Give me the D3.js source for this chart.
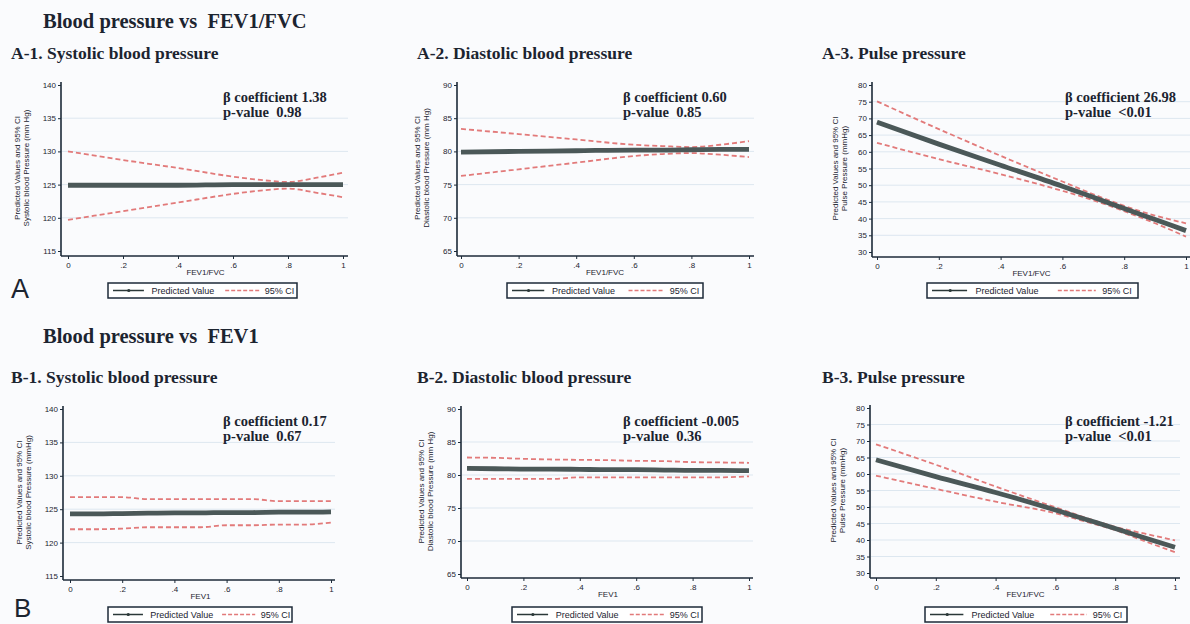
<!DOCTYPE html>
<html lang="en">
<head>
<meta charset="UTF-8" />
<title>Blood pressure vs lung function</title>
<script src="https://d3js.org/d3.v7.min.js"></script>
<style>
    body { margin: 0; background: #fafbfd; }
    svg { display: block; }
    .head { font-family: "Liberation Serif", "Times New Roman", serif; font-weight: bold; fill: #1c2430; }
    .small { font-family: "Liberation Sans", Arial, sans-serif; font-size: 8px; fill: #1c2430; }
    .legtext { font-family: "Liberation Sans", Arial, sans-serif; font-size: 9px; fill: #1c2430; }
    .axis path, .axis line { stroke: #1c2a38; }
    .axis text { font-family: "Liberation Sans", Arial, sans-serif; font-size: 8px; fill: #1c2430; }
</style>
</head>
<body>
<svg id="chart" width="1190" height="624"></svg>
<script>
const xsA = [0, 0.2, 0.4, 0.6, 0.7, 0.8, 0.9, 1];
const xsB = [0, 0.1, 0.2, 0.3, 0.4, 0.5, 0.6, 0.7, 0.8, 0.9, 1];

// A: blood pressure vs FEV1/FVC
const a1Pred  = [124.9, 124.9, 124.9, 125.0, 125.0, 125.0, 125.0, 125.0];
const a1Upper = [130.0, 128.7, 127.5, 126.2, 125.7, 125.4, 126.0, 126.8];
const a1Lower = [119.7, 121.0, 122.3, 123.6, 124.1, 124.4, 123.8, 123.1];

const a2Pred  = [79.9, 80.0, 80.1, 80.2, 80.2, 80.25, 80.3, 80.3];
const a2Upper = [83.4, 82.6, 81.8, 81.0, 80.8, 80.65, 81.0, 81.55];
const a2Lower = [76.3, 77.3, 78.3, 79.3, 79.6, 79.75, 79.5, 79.15];

const a3Pred  = [68.9, 62.3, 56.0, 49.7, 46.4, 43.0, 39.7, 36.4];
const a3Upper = [75.1, 66.8, 58.8, 51.1, 47.3, 43.8, 40.9, 38.6];
const a3Lower = [62.7, 57.8, 53.3, 48.3, 45.5, 42.2, 38.6, 34.6];

// B: blood pressure vs FEV1
const b1Pred  = [124.3, 124.3, 124.35, 124.4, 124.45, 124.45, 124.5, 124.5, 124.55, 124.55, 124.6];
const b1Upper = [126.8, 126.8, 126.8, 126.5, 126.5, 126.5, 126.5, 126.5, 126.2, 126.2, 126.2];
const b1Lower = [122.0, 122.0, 122.1, 122.3, 122.3, 122.3, 122.6, 122.6, 122.7, 122.7, 123.0];

const b2Pred  = [81.0, 80.95, 80.9, 80.9, 80.85, 80.8, 80.8, 80.75, 80.7, 80.7, 80.65];
const b2Upper = [82.65, 82.6, 82.45, 82.35, 82.3, 82.25, 82.15, 82.1, 81.95, 81.9, 81.85];
const b2Lower = [79.4, 79.4, 79.4, 79.4, 79.65, 79.65, 79.65, 79.65, 79.65, 79.65, 79.8];

const b3Pred  = [64.3, 59.2, 54.4, 49.1, 46.3, 43.5, 40.6, 37.8];
const b3Upper = [69.0, 62.8, 56.2, 49.9, 46.8, 44.0, 41.9, 39.9];
const b3Lower = [59.5, 55.5, 51.6, 48.1, 45.6, 43.0, 39.6, 36.3];

const xTicks = [0, 0.2, 0.4, 0.6, 0.8, 1];
const sbpTicks = [115, 120, 125, 130, 135, 140];
const dbpTicks = [65, 70, 75, 80, 85, 90];
const ppTicks = [30, 35, 40, 45, 50, 55, 60, 65, 70, 75, 80];

const panels = [
    { title: "A-1. Systolic blood pressure", xs: xsA, pred: a1Pred, upper: a1Upper, lower: a1Lower,
      yTicks: sbpTicks, xLabel: "FEV1/FVC", yLabel: "Systolic blood Pressure (mm Hg)",
      beta: "β coefficient 1.38", p: "p-value\u00a0\u00a00.98",
      ax: 61, x0: 68, x1: 343, xEnd: 348, yTop: 85, yBot: 251, ay: 256, lab2: 31, legend: [108, 297], annX: 223, row: 0 },
    { title: "A-2. Diastolic blood pressure", xs: xsA, pred: a2Pred, upper: a2Upper, lower: a2Lower,
      yTicks: dbpTicks, xLabel: "FEV1/FVC", yLabel: "Diastolic blood Pressure (mm Hg)",
      beta: "β coefficient 0.60", p: "p-value\u00a0\u00a00.85",
      ax: 457, x0: 461, x1: 749, xEnd: 754, yTop: 85, yBot: 251, ay: 256, lab2: 27, legend: [507, 703], annX: 623, row: 0 },
    { title: "A-3. Pulse pressure", xs: xsA, pred: a3Pred, upper: a3Upper, lower: a3Lower,
      yTicks: ppTicks, xLabel: "FEV1/FVC", yLabel: "Pulse Pressure (mmHg)",
      beta: "β coefficient 26.98", p: "p-value\u00a0\u00a0<0.01",
      ax: 872, x0: 877, x1: 1186, xEnd: 1190, yTop: 85, yBot: 252, ay: 257, lab2: 24, legend: [927, 1138], annX: 1065, row: 0 },
    { title: "B-1. Systolic blood pressure", xs: xsB, pred: b1Pred, upper: b1Upper, lower: b1Lower,
      yTicks: sbpTicks, xLabel: "FEV1", yLabel: "Systolic blood Pressure (mmHg)",
      beta: "β coefficient 0.17", p: "p-value\u00a0\u00a00.67",
      ax: 63, x0: 70, x1: 331, xEnd: 335, yTop: 409, yBot: 576, ay: 580, lab2: 31, legend: [108, 292], annX: 223, row: 1 },
    { title: "B-2. Diastolic blood pressure", xs: xsB, pred: b2Pred, upper: b2Upper, lower: b2Lower,
      yTicks: dbpTicks, xLabel: "FEV1", yLabel: "Diastolic blood Pressure (mm Hg)",
      beta: "β coefficient -0.005", p: "p-value\u00a0\u00a00.36",
      ax: 461, x0: 467, x1: 749, xEnd: 753, yTop: 409, yBot: 574, ay: 578, lab2: 27, legend: [512, 702], annX: 623, row: 1 },
    { title: "B-3. Pulse pressure", xs: xsA, pred: b3Pred, upper: b3Upper, lower: b3Lower,
      yTicks: ppTicks, xLabel: "FEV1/FVC", yLabel: "Pulse Pressure (mmHg)",
      beta: "β coefficient -1.21", p: "p-value\u00a0\u00a0<0.01",
      ax: 870, x0: 876, x1: 1175, xEnd: 1180, yTop: 408, yBot: 573, ay: 578, lab2: 24, legend: [925, 1127], annX: 1065, row: 1 }
];

const titleX = [11, 417, 822, 11, 417, 822];
const rowTop = [0, 324];

const svg = d3.select("#chart");
const predColor = "#4b5858";
const ciColor = "#e27a7a";

// section headers and the A / B letters
svg.append("text").attr("class", "head").attr("x", 43).attr("y", 28).attr("font-size", 20.5)
    .text("Blood pressure vs\u00a0\u00a0FEV1/FVC");
svg.append("text").attr("class", "head").attr("x", 43).attr("y", 343).attr("font-size", 20.5)
    .text("Blood pressure vs\u00a0\u00a0FEV1");
svg.append("text").attr("x", 11).attr("y", 298).attr("font-family", "Liberation Sans, Arial, sans-serif")
    .attr("font-size", 27).attr("fill", "#1c2430").text("A");
svg.append("text").attr("x", 14).attr("y", 617).attr("font-family", "Liberation Sans, Arial, sans-serif")
    .attr("font-size", 26).attr("fill", "#1c2430").text("B");

panels.forEach((p, i) => {
    const off = rowTop[p.row];
    const g = svg.append("g");

    g.append("text").attr("class", "head").attr("x", titleX[i]).attr("y", 59 + off)
        .attr("font-size", 17.5).text(p.title);

    const x = d3.scaleLinear().domain([0, 1]).range([p.x0, p.x1]);
    const y = d3.scaleLinear().domain(d3.extent(p.yTicks)).range([p.yBot, p.yTop]);

    // gridlines
    g.append("g").selectAll("line")
        .data(p.yTicks.slice(1, -1))
        .join("line")
        .attr("x1", p.ax + 1).attr("x2", p.xEnd)
        .attr("y1", d => y(d)).attr("y2", d => y(d))
        .attr("stroke", "#dde7f0").attr("stroke-width", 1);

    // axes
    g.append("g").attr("class", "axis")
        .attr("transform", `translate(${p.ax},0)`)
        .call(d3.axisLeft(y).tickValues(p.yTicks).tickSize(3).tickPadding(2).tickSizeOuter(0))
        .call(a => a.select(".domain").attr("d", `M0,${p.ay}V${p.yTop - 3}`).attr("stroke-width", 1.6));

    g.append("g").attr("class", "axis")
        .attr("transform", `translate(0,${p.ay})`)
        .call(d3.axisBottom(x).tickValues(xTicks).tickSize(3).tickPadding(3)
            .tickFormat(d => d === 0 ? "0" : d === 1 ? "1" : String(d).replace("0.", ".")))
        .call(a => a.select(".domain").attr("d", `M${p.ax},0H${p.xEnd}`).attr("stroke-width", 1.6));

    // axis titles
    g.append("text").attr("class", "small").attr("text-anchor", "middle")
        .attr("x", (p.x0 + p.x1) / 2).attr("y", p.ay + 19).text(p.xLabel);
    const midY = (p.yTop + p.yBot) / 2;
    g.append("text").attr("class", "small").attr("text-anchor", "middle")
        .attr("transform", `translate(${p.ax - p.lab2 - 10},${midY}) rotate(-90)`)
        .text("Predicted Values and 95% CI");
    g.append("text").attr("class", "small").attr("text-anchor", "middle")
        .attr("transform", `translate(${p.ax - p.lab2 - 1},${midY}) rotate(-90)`)
        .text(p.yLabel);

    // lines
    const line = vals => d3.line()
        .x((d, k) => x(p.xs[k]))
        .y(d => y(d))
        .curve(d3.curveMonotoneX)(vals);

    [p.upper, p.lower].forEach(vals => {
        g.append("path").attr("d", line(vals)).attr("fill", "none")
            .attr("stroke", ciColor).attr("stroke-width", 1.8).attr("stroke-dasharray", "5,3");
    });
    g.append("path").attr("d", line(p.pred)).attr("fill", "none")
        .attr("stroke", predColor).attr("stroke-width", 4.8);

    // annotation
    g.append("text").attr("class", "head").attr("font-size", 14.5)
        .attr("x", p.annX).attr("y", 102 + off).text(p.beta);
    g.append("text").attr("class", "head").attr("font-size", 14.5)
        .attr("x", p.annX).attr("y", 117 + off).text(p.p);

    // legend
    const [lx0, lx1] = p.legend;
    const ly = 283 + off;
    const w = lx1 - lx0;
    const lg = g.append("g");
    lg.append("rect").attr("x", lx0).attr("y", ly).attr("width", w).attr("height", 15)
        .attr("fill", "#ffffff").attr("stroke", "#1c2a38").attr("stroke-width", 1.5);
    const cy = ly + 7.5;
    lg.append("line").attr("x1", lx0 + 5).attr("x2", lx0 + 0.19 * w).attr("y1", cy).attr("y2", cy)
        .attr("stroke", "#2b3838").attr("stroke-width", 1.5);
    lg.append("circle").attr("cx", lx0 + 0.11 * w).attr("cy", cy).attr("r", 1.6).attr("fill", "#2b3838");
    lg.append("text").attr("class", "legtext").attr("x", lx0 + 0.23 * w).attr("y", cy + 3.2).text("Predicted Value");
    lg.append("line").attr("x1", lx0 + 0.62 * w).attr("x2", lx0 + 0.80 * w).attr("y1", cy).attr("y2", cy)
        .attr("stroke", ciColor).attr("stroke-width", 1.5).attr("stroke-dasharray", "4,2");
    lg.append("text").attr("class", "legtext").attr("x", lx0 + 0.83 * w).attr("y", cy + 3.2).text("95% CI");
});
</script>
</body>
</html>
